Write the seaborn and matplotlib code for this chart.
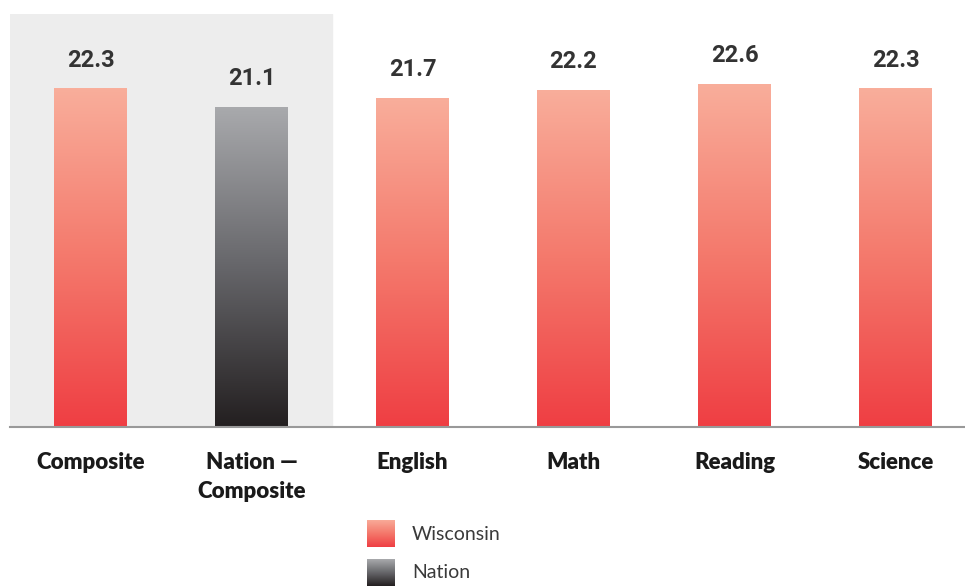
import numpy as np
import pandas as pd
import matplotlib
matplotlib.use("Agg")
import matplotlib.pyplot as plt
from matplotlib.colors import LinearSegmentedColormap
import seaborn as sns

# chart data
categories = ["Composite", "Nation \u2014\nComposite", "English", "Math", "Reading", "Science"]
scores = [22.3, 21.1, 21.7, 22.2, 22.6, 22.3]
groups = ["Wisconsin", "Nation", "Wisconsin", "Wisconsin", "Wisconsin", "Wisconsin"]
legend_labels = ["Wisconsin", "Nation"]

df = pd.DataFrame({"category": categories, "score": scores, "group": groups})

# gradient colours (bottom -> top)
grad = {
    "Wisconsin": LinearSegmentedColormap.from_list("wi", ["#ef3e43", "#f4796c", "#f9ae9b"]),
    "Nation": LinearSegmentedColormap.from_list("na", ["#231f20", "#66666a", "#a9aaad"]),
}

sns.set_style("white")
fig = plt.figure(figsize=(9.65, 5.87), dpi=100)
ax = fig.add_axes([10 / 965, 1 - 427 / 587, 966 / 965, 413 / 587])

sns.barplot(data=df, x="category", y="score", hue="group", dodge=False,
            palette={"Wisconsin": "#ef3e43", "Nation": "#231f20"},
            width=0.45, legend=False, ax=ax)
bars = [p for p in ax.patches if p.get_height() > 0]

ax.set_xlim(-0.5, 5.5)
ax.set_ylim(0, 27.2)

# shaded block behind the composite comparison
ax.axvspan(-0.5, 1.5, color="#ededed", zorder=0)

# gradient fill clipped to each bar
ramp = np.linspace(0, 1, 256).reshape(-1, 1)
for patch in bars:
    x0, y0 = patch.get_x(), patch.get_y()
    w, h = patch.get_width(), patch.get_height()
    idx = int(round(x0 + w / 2))
    grp, val = groups[idx], scores[idx]
    img = ax.imshow(ramp, cmap=grad[grp], aspect="auto", origin="lower",
                    extent=[x0, x0 + w, y0, y0 + h], zorder=2)
    img.set_clip_path(patch)
    patch.set_facecolor("none")
    patch.set_edgecolor("none")
    ax.annotate(f"{val}", (x0 + w / 2, y0 + h), xytext=(0, 12), textcoords="offset points",
                ha="center", va="bottom", fontsize=17, fontweight="bold",
                color="#333333", family=["Roboto", "DejaVu Sans"])

ax.set_xlim(-0.5, 5.5)
ax.set_ylim(0, 27.2)

# axis styling
for s in ["top", "right", "left"]:
    ax.spines[s].set_visible(False)
ax.spines["bottom"].set_color("#999999")
ax.spines["bottom"].set_linewidth(1.5)
ax.spines["bottom"].set_zorder(3)
ax.set_yticks([])
ax.set_xlabel("")
ax.set_ylabel("")
ax.set_xticks(range(len(categories)))
ax.set_xticklabels(categories, fontsize=16, fontweight="heavy", color="#1a1a1a",
                   family=["Lato", "DejaVu Sans"], linespacing=1.45)
ax.set_xticks(np.arange(-0.5, 6, 1), minor=True)
ax.tick_params(axis="x", which="major", length=0, pad=18)
ax.tick_params(axis="x", which="minor", length=6, width=1.2, color="#999999", direction="out")

# legend with gradient swatches
for lab, ypix in zip(legend_labels, [520, 559]):
    sw = fig.add_axes([367 / 965, 1 - (ypix + 27) / 587, 28 / 965, 27 / 587])
    sw.imshow(ramp, cmap=grad[lab], aspect="auto", origin="lower")
    sw.axis("off")
    fig.text(412 / 965, 1 - (ypix + 14) / 587, lab, ha="left", va="center",
             fontsize=14, fontweight="normal", color="#3a3a3a",
             family=["Lato", "DejaVu Sans"])

fig.savefig("out.png", dpi=100)
